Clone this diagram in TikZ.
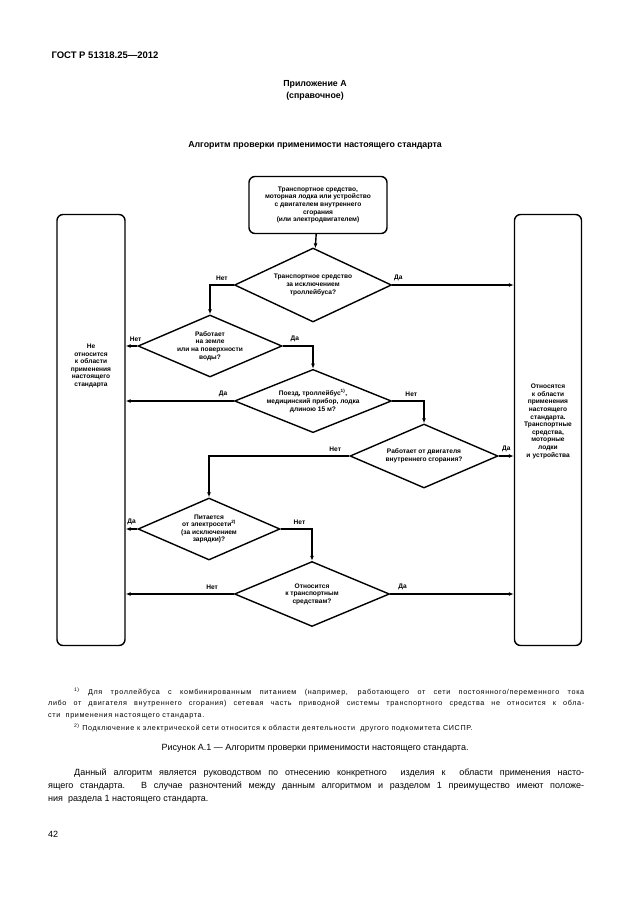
\documentclass[tikz,border=0pt]{standalone}
\usepackage{fontspec}
\setmainfont{Liberation Sans}
\newfontfamily\spaced[LetterSpace=9]{Liberation Sans}
\usetikzlibrary{shapes.geometric,arrows.meta}
\begin{document}
\begin{tikzpicture}[x=1pt,y=-1pt,
    box/.style={draw,line width=1.4pt,rounded corners=6pt,align=center,font=\fontsize{6.6}{7.6}\selectfont\bfseries},
    dec/.style={draw,diamond,line width=1.4pt,aspect=2.3,inner sep=0pt,align=center,font=\fontsize{6.6}{7.6}\selectfont\bfseries},
    flow/.style={line width=1.4pt,-{Latex[length=5pt,width=4pt]}},
    lbl/.style={font=\fontsize{6.6}{7.6}\selectfont\bfseries,anchor=south}]
        \useasboundingbox (0,0) rectangle (630,913);
        % Header and titles
        \node[anchor=west,font=\fontsize{9.5}{11}\selectfont\bfseries] (gost) at (48,55) {ГОСТ Р 51318.25—2012};
        \node[font=\fontsize{8.8}{12}\selectfont\bfseries,align=center] (annex) at (315,90) {Приложение А\\(справочное)};
        \node[font=\fontsize{8.8}{10}\selectfont\bfseries] (title) at (315,145) {Алгоритм проверки применимости настоящего стандарта};
        % Boxes
        \node[box,minimum width=138,minimum height=57] (start) at (318,205) {Транспортное средство,\\моторная лодка или устройство\\с двигателем внутреннего\\сгорания\\(или электродвигателем)};
        \node[box,minimum width=68,minimum height=431] (notapp) at (91,430) {};
        \node[box,draw=none,text width=62,anchor=north] at (91,340) {Не\\относится\\к области\\применения\\настоящего\\стандарта};
        \node[box,minimum width=67,minimum height=431] (app) at (548,430) {};
        \node[box,draw=none,text width=64,anchor=north] at (548,380) {Относятся\\к области\\применения\\настоящего\\стандарта.\\Транспортные\\средства,\\моторные\\лодки\\и устройства};
        % Decisions
        \node[dec,minimum width=157,minimum height=74] (d1) at (313,285) {Транспортное средство\\за исключением\\троллейбуса?};
        \node[dec,minimum width=144,minimum height=62] (d2) at (210,346) {Работает\\на земле\\или на поверхности\\воды?};
        \node[dec,minimum width=157,minimum height=62] (d3) at (313,401) {Поезд, троллейбус\textsuperscript{1)},\\медицинский прибор, лодка\\длиною 15 м?};
        \node[dec,minimum width=148,minimum height=64] (d4) at (424,456) {Работает от двигателя\\внутреннего сгорания?};
        \node[dec,minimum width=142,minimum height=62] (d5) at (209,529) {Питается\\от электросети\textsuperscript{2)}\\(за исключением\\зарядки)?};
        \node[dec,minimum width=155,minimum height=65] (d6) at (312,594) {Относится\\к транспортным\\средствам?};
        % Connectors
        \draw[flow] (start) -- (d1);
        \draw[flow] (d1.west) -| node[lbl,pos=0.25] {Нет} (d2.north);
        \draw[flow] (d1.east) -- node[lbl,pos=0.05] {Да} (app.west |- d1.east);
        \draw[flow] (d2.west) -- node[lbl,pos=0.15] {Нет} (notapp.east |- d2.west);
        \draw[flow] (d2.east) -| node[lbl,pos=0.2] {Да} (d3.north);
        \draw[flow] (d3.west) -- node[lbl,pos=0.1] {Да} (notapp.east |- d3.west);
        \draw[flow] (d3.east) -| node[lbl,pos=0.3] {Нет} (d4.north);
        \draw[flow] (d4.east) -- node[lbl,pos=0.5] {Да} (app.west |- d4.east);
        \draw[flow] (d4.west) -| node[lbl,pos=0.05] {Нет} (d5.north);
        \draw[flow] (d5.west) -- node[lbl,pos=0.5] {Да} (notapp.east |- d5.west);
        \draw[flow] (d5.east) -| node[lbl,pos=0.3] {Нет} (d6.north);
        \draw[flow] (d6.west) -- node[lbl,pos=0.2] {Нет} (notapp.east |- d6.west);
        \draw[flow] (d6.east) -- node[lbl,pos=0.1] {Да} (app.west |- d6.east);
        % Footnotes
        \begin{scope}[every node/.style={anchor=west,inner sep=0pt,font=\spaced\fontsize{7.2}{8}\selectfont}]
            \node (f1) at (48,692) {\makebox[536pt][s]{\hspace{26pt}\textsuperscript{1)} Для троллейбуса с комбинированным питанием (например, работающего от сети постоянного/переменного тока}};
            \node (f2) at (48,704) {\makebox[536pt][s]{либо от двигателя внутреннего сгорания) сетевая часть приводной системы транспортного средства не относится к обла-}};
            \node (f3) at (48,716) {сти \ применения настоящего стандарта.};
            \node (f4) at (74,728) {\textsuperscript{2)} Подключение к электрической сети относится к области деятельности \ другого подкомитета СИСПР.};
        \end{scope}
        % Caption and text
        \begin{scope}[every node/.style={anchor=west,inner sep=0pt,font=\fontsize{9}{10}\selectfont}]
            \node[anchor=center] (cap) at (315,748) {Рисунок А.1 — Алгоритм проверки применимости настоящего стандарта.};
            \node (t1) at (48,773) {\makebox[536pt][s]{\hspace{26pt}Данный алгоритм является руководством по отнесению конкретного \ изделия к \ области применения насто-}};
            \node (t2) at (48,786) {\makebox[536pt][s]{ящего стандарта. В случае разночтений между данным алгоритмом и разделом 1 преимущество имеют положе-}};
            \node (t3) at (48,799) {ния \ раздела 1 настоящего стандарта.};
            \node (page) at (48,834) {42};
        \end{scope}
\end{tikzpicture}
\end{document}
